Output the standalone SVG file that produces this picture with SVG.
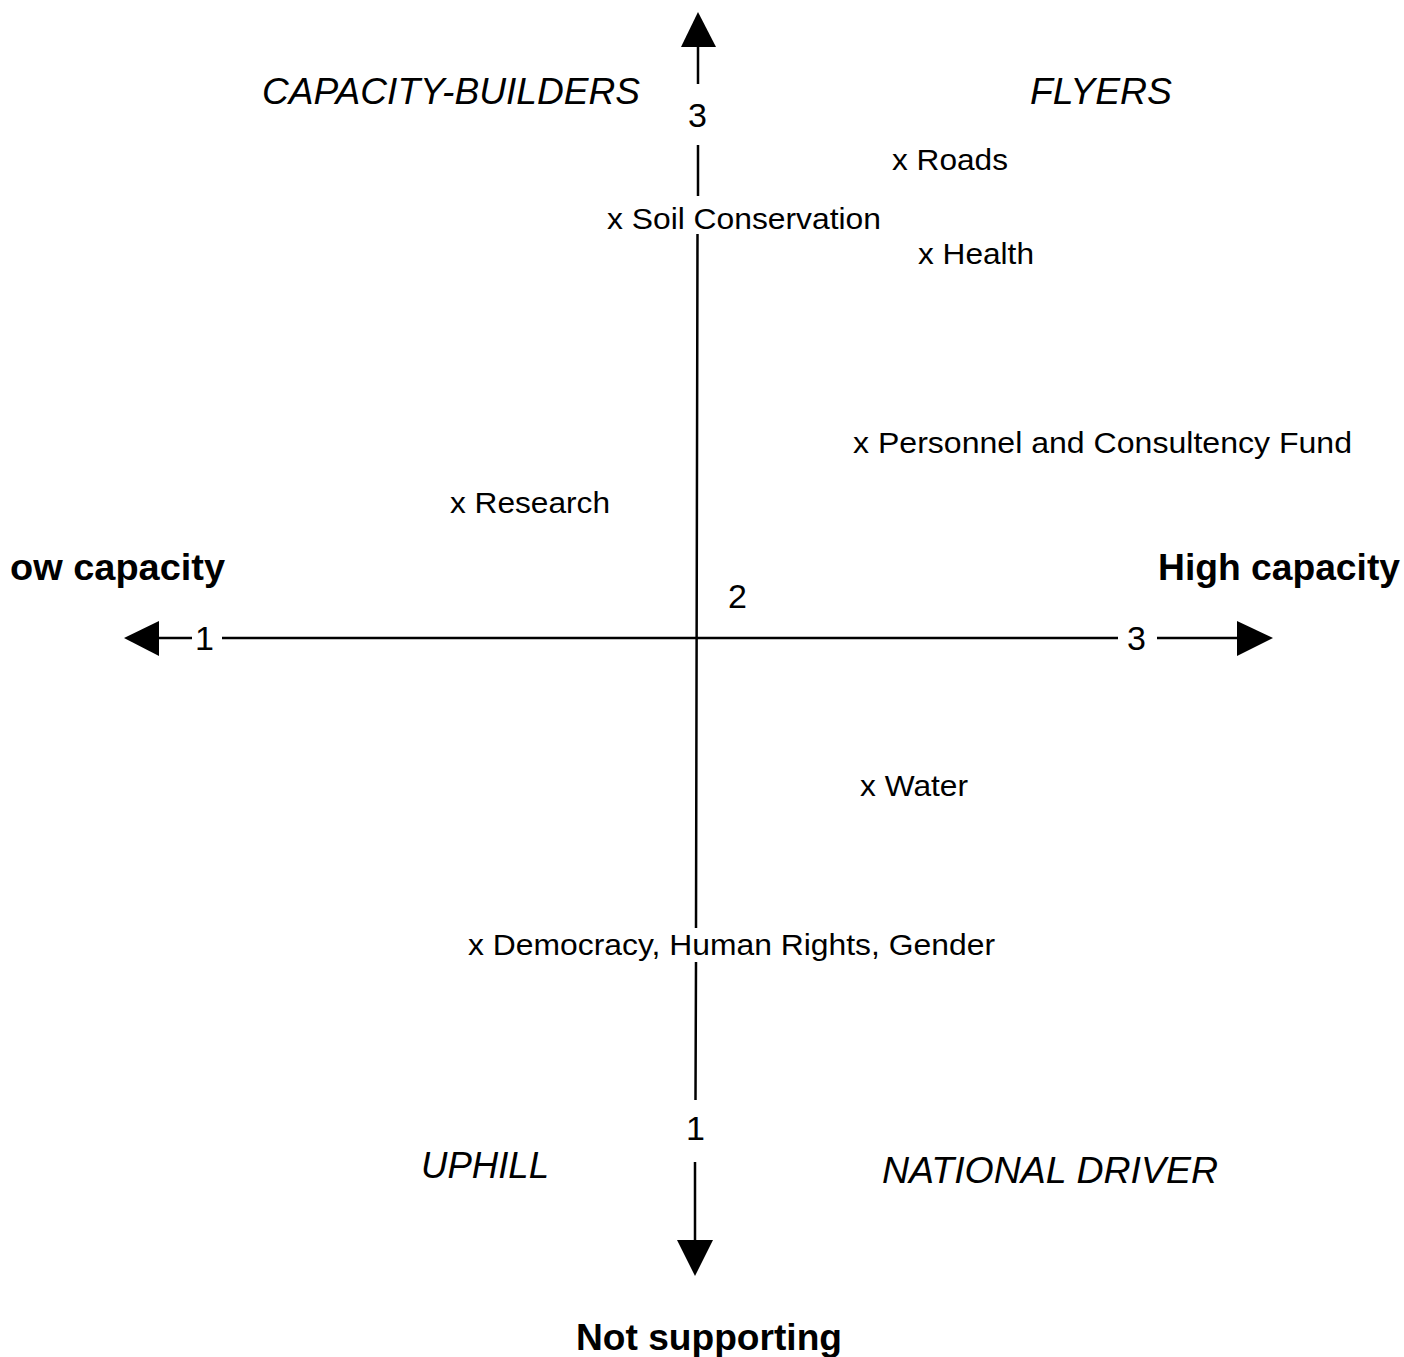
<svg xmlns="http://www.w3.org/2000/svg" width="1404" height="1357" viewBox="0 0 1404 1357">
  <style>
    text { font-family: "Liberation Sans", Arial, Helvetica, sans-serif; fill: #000; }
    .item { font-size: 30px; }
    .quad { font-size: 36px; font-style: italic; }
    .axis { font-size: 36px; font-weight: bold; }
    .tick { font-size: 34px; }
    .line { stroke: #000; stroke-width: 2.5; fill: none; }
    .head { fill: #000; stroke: none; }
  </style>
  <rect width="1404" height="1357" fill="#fff"/>

  <!-- axes -->
  <g id="connectors">
    <!-- vertical axis, broken where labels sit on it -->
    <path class="line" d="M698 44 L698 84 M698 145 L698 196 M697.5 234 L696 928 M696 962 L695.5 1100 M695 1162 L695 1242"/>
    <polygon class="head" points="698,12 716,47 681,47"/>
    <polygon class="head" points="695,1276 677,1240 713,1240"/>
    <!-- horizontal axis -->
    <path class="line" d="M156 638 L192 638 M222 638 L1118 638 M1157 638 L1239 638"/>
    <polygon class="head" points="124,638 159,621 159,656"/>
    <polygon class="head" points="1273,638 1237,621 1237,656"/>
  </g>

  <!-- axis titles -->
  <g id="axis-low"><text class="axis" x="10" y="580" textLength="215" lengthAdjust="spacingAndGlyphs">ow capacity</text></g>
  <g id="axis-high"><text class="axis" x="1158" y="580" textLength="242" lengthAdjust="spacingAndGlyphs">High capacity</text></g>
  <g id="axis-bottom"><text class="axis" x="576" y="1350" textLength="266" lengthAdjust="spacingAndGlyphs">Not supporting</text></g>

  <!-- scale marks -->
  <g id="tick-top"><text class="tick" x="688" y="127">3</text></g>
  <g id="tick-centre"><text class="tick" x="728" y="608">2</text></g>
  <g id="tick-left"><text class="tick" x="195" y="650">1</text></g>
  <g id="tick-right"><text class="tick" x="1127" y="650">3</text></g>
  <g id="tick-bottom"><text class="tick" x="686" y="1140">1</text></g>

  <!-- quadrant names -->
  <g id="quad-capacity-builders"><text class="quad" x="262" y="104" textLength="378" lengthAdjust="spacingAndGlyphs">CAPACITY-BUILDERS</text></g>
  <g id="quad-flyers"><text class="quad" x="1030" y="104" textLength="142" lengthAdjust="spacingAndGlyphs">FLYERS</text></g>
  <g id="quad-uphill"><text class="quad" x="421" y="1178" textLength="128" lengthAdjust="spacingAndGlyphs">UPHILL</text></g>
  <g id="quad-national-driver"><text class="quad" x="882" y="1183" textLength="336" lengthAdjust="spacingAndGlyphs">NATIONAL DRIVER</text></g>

  <!-- plotted sectors -->
  <g id="item-roads"><text class="item" x="892" y="170" textLength="116" lengthAdjust="spacingAndGlyphs">x Roads</text></g>
  <g id="item-soil"><text class="item" x="607" y="229" textLength="274" lengthAdjust="spacingAndGlyphs">x Soil Conservation</text></g>
  <g id="item-health"><text class="item" x="918" y="264" textLength="116" lengthAdjust="spacingAndGlyphs">x Health</text></g>
  <g id="item-personnel"><text class="item" x="853" y="453" textLength="499" lengthAdjust="spacingAndGlyphs">x Personnel and Consultency Fund</text></g>
  <g id="item-research"><text class="item" x="450" y="513" textLength="160" lengthAdjust="spacingAndGlyphs">x Research</text></g>
  <g id="item-water"><text class="item" x="860" y="796" textLength="108" lengthAdjust="spacingAndGlyphs">x Water</text></g>
  <g id="item-democracy"><text class="item" x="468" y="955" textLength="527" lengthAdjust="spacingAndGlyphs">x Democracy, Human Rights, Gender</text></g>
</svg>
